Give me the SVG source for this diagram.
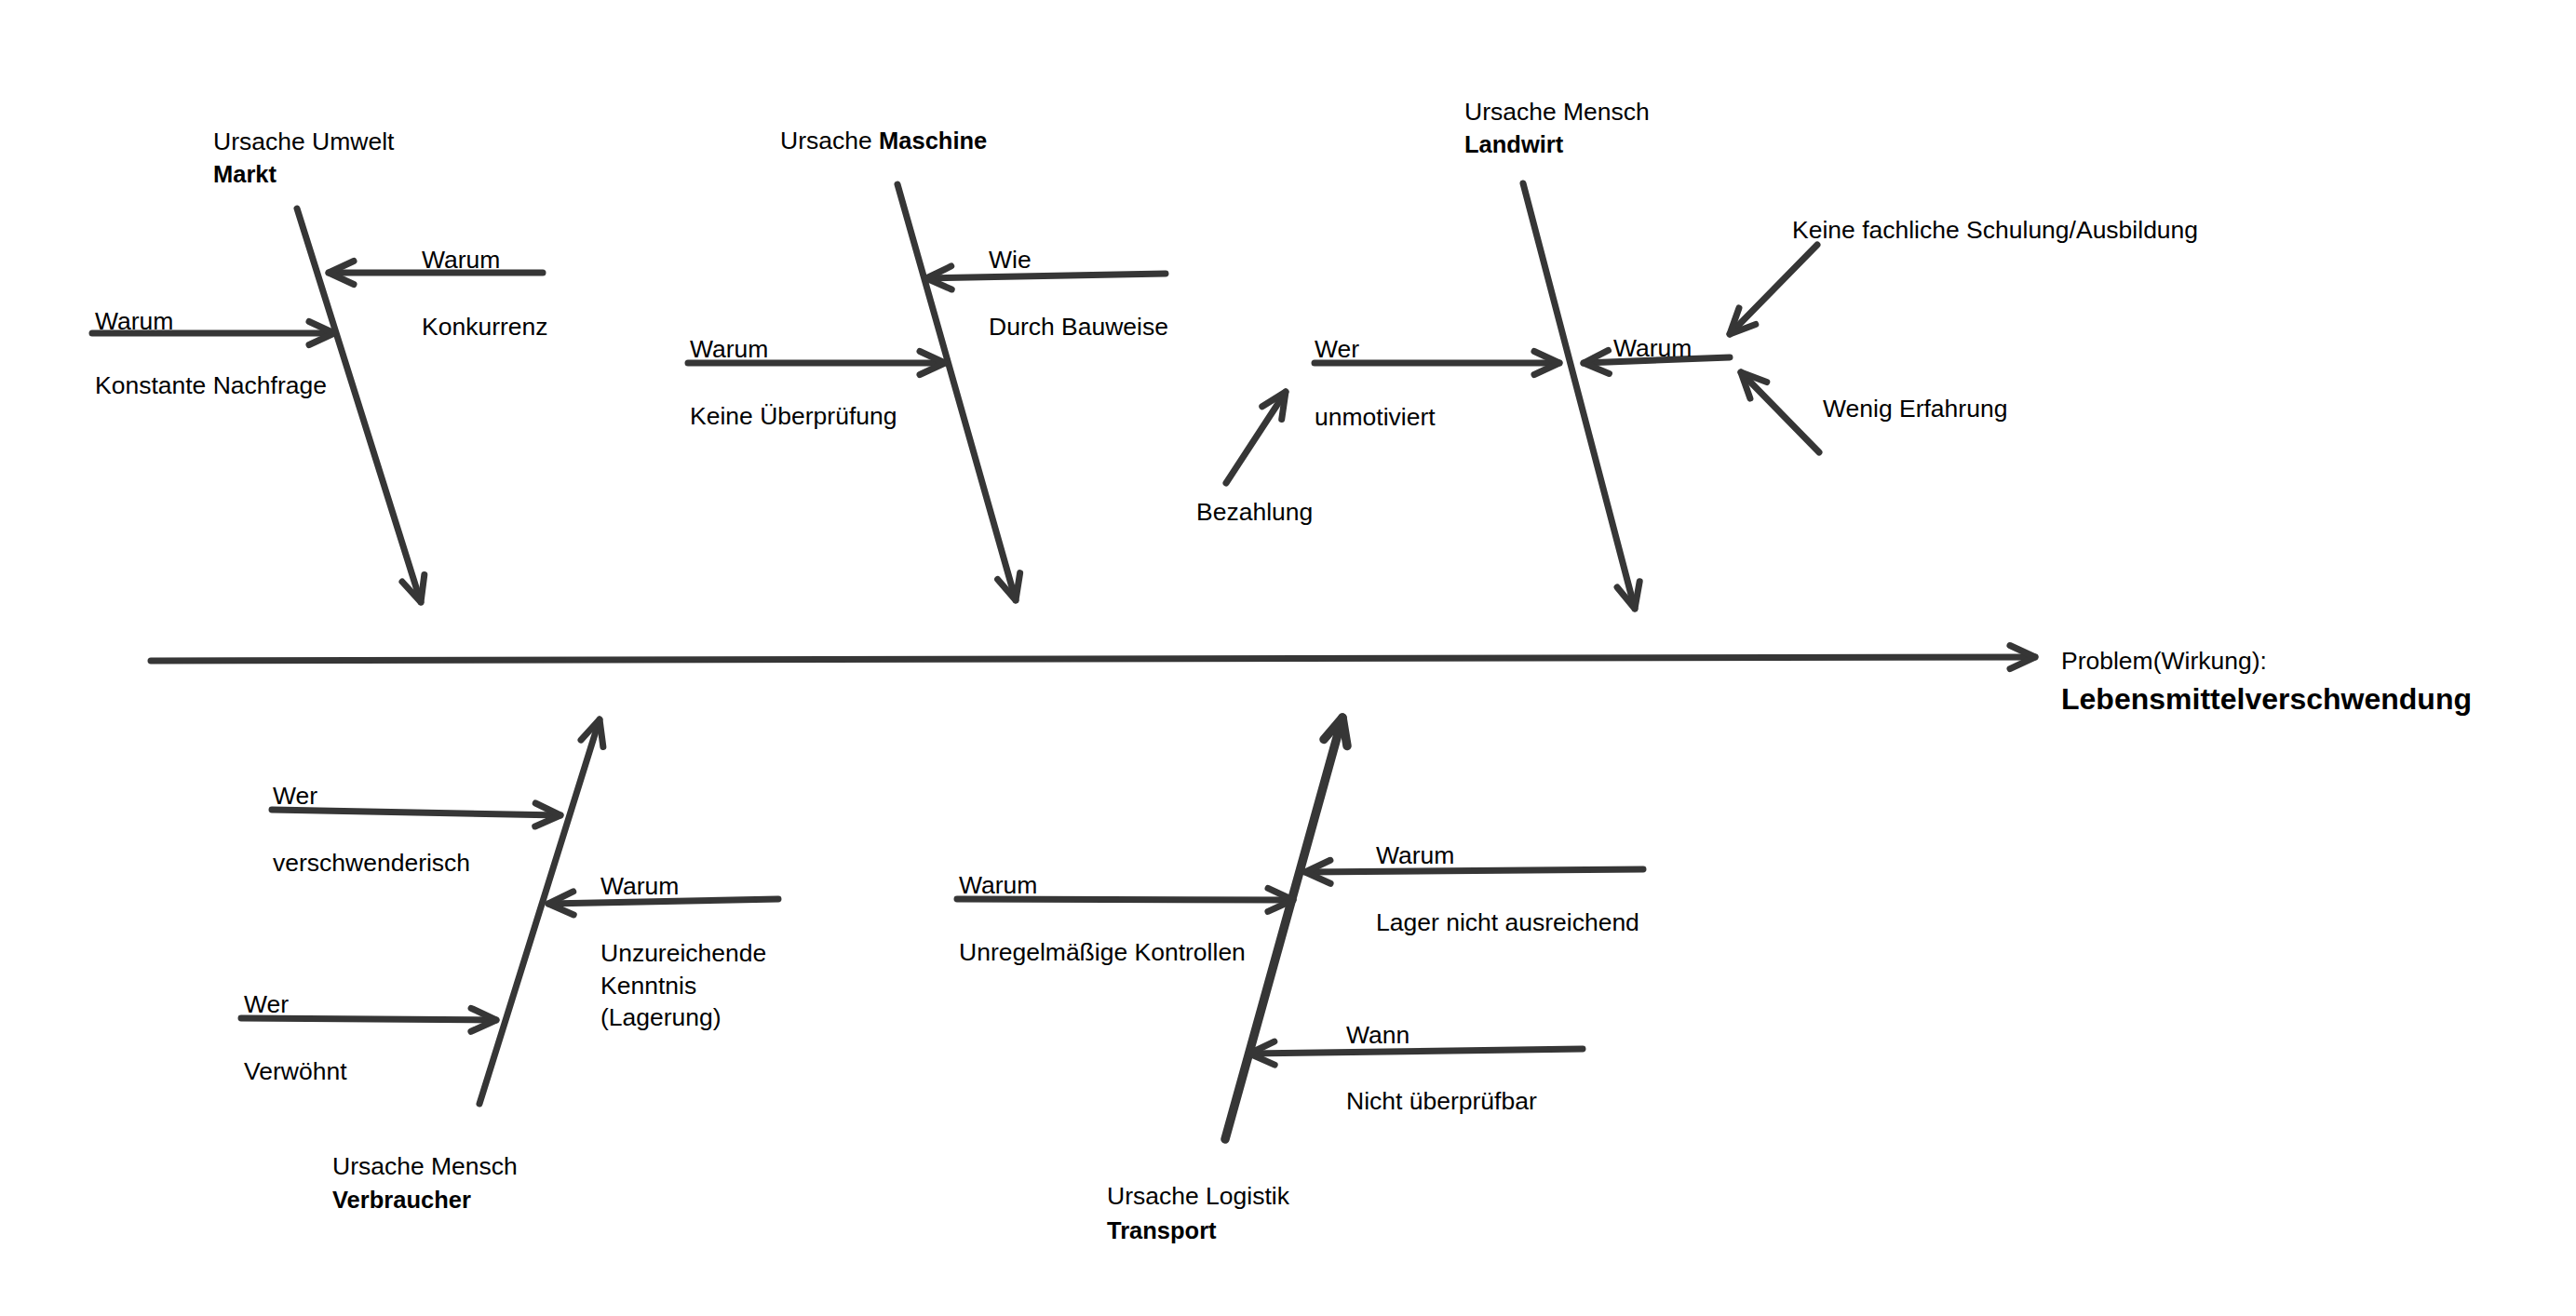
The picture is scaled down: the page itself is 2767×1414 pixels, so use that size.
<svg xmlns="http://www.w3.org/2000/svg" width="2767" height="1414" viewBox="0 0 2767 1414">
<style>
text{font-family:"Liberation Sans",Arial,sans-serif;font-size:26.5px;fill:#000}
.b{font-weight:bold;font-size:25.5px}
.big{font-weight:bold;font-size:32px}
.ln{stroke:#363636;stroke-width:7;stroke-linecap:round;fill:none;marker-end:url(#ah)}
.thick{stroke-width:9.5;marker-end:url(#ahb)}
</style>
<defs>
<marker id="ah" markerUnits="userSpaceOnUse" orient="auto" refX="0" refY="0" markerWidth="60" markerHeight="60" overflow="visible">
<path d="M-27,-12.5 L0,0 L-27,12.5" fill="none" stroke="#363636" stroke-width="7" stroke-linecap="round" stroke-linejoin="round"/>
</marker>
<marker id="ahb" markerUnits="userSpaceOnUse" orient="auto" refX="0" refY="0" markerWidth="60" markerHeight="60" overflow="visible">
<path d="M-28,-13 L0,0 L-28,13" fill="none" stroke="#363636" stroke-width="9.5" stroke-linecap="round" stroke-linejoin="round"/>
</marker>
</defs>
<rect width="2767" height="1414" fill="#fff"/>
<g id="connectors">
<line class="ln" x1="162" y1="710" x2="2186" y2="706"/>
<line class="ln" x1="319" y1="224" x2="452" y2="647"/>
<line class="ln" x1="583" y1="293" x2="353" y2="293"/>
<line class="ln" x1="99" y1="358" x2="359" y2="358"/>
<line class="ln" x1="964" y1="198" x2="1091" y2="645"/>
<line class="ln" x1="1252" y1="294" x2="995" y2="299"/>
<line class="ln" x1="739" y1="390" x2="1015" y2="390"/>
<line class="ln" x1="1317" y1="519" x2="1381" y2="421"/>
<line class="ln" x1="1636" y1="197" x2="1756" y2="654"/>
<line class="ln" x1="1412" y1="390" x2="1675" y2="390"/>
<line class="ln" x1="1858" y1="384" x2="1701" y2="390"/>
<line class="ln" x1="1952" y1="263" x2="1858" y2="359"/>
<line class="ln" x1="1954" y1="486" x2="1870" y2="400"/>
<line class="ln" x1="515" y1="1186" x2="644" y2="773"/>
<line class="ln" x1="292" y1="870" x2="602" y2="876"/>
<line class="ln" x1="836" y1="966" x2="589" y2="971"/>
<line class="ln" x1="259" y1="1094" x2="533" y2="1096"/>
<line class="ln thick" x1="1316" y1="1224" x2="1442" y2="771"/>
<line class="ln" x1="1028" y1="966" x2="1389" y2="967"/>
<line class="ln" x1="1765" y1="934" x2="1402" y2="937"/>
<line class="ln" x1="1700" y1="1127" x2="1342" y2="1132"/>
</g>
<g id="problem">
<text x="2214" y="719">Problem(Wirkung):</text>
<text class="big" x="2214" y="762">Lebensmittelverschwendung</text>
</g>
<g id="markt">
<text x="229" y="161">Ursache Umwelt</text>
<text class="b" x="229" y="196">Markt</text>
<text x="453" y="288">Warum</text>
<text x="453" y="360">Konkurrenz</text>
<text x="102" y="354">Warum</text>
<text x="102" y="423">Konstante Nachfrage</text>
</g>
<g id="maschine">
<text x="838" y="160">Ursache <tspan class="b">Maschine</tspan></text>
<text x="1062" y="288">Wie</text>
<text x="1062" y="360">Durch Bauweise</text>
<text x="741" y="384">Warum</text>
<text x="741" y="456">Keine Überprüfung</text>
<text x="1285" y="559">Bezahlung</text>
</g>
<g id="landwirt">
<text x="1573" y="129">Ursache Mensch</text>
<text class="b" x="1573" y="164">Landwirt</text>
<text x="1412" y="384">Wer</text>
<text x="1412" y="457">unmotiviert</text>
<text x="1733" y="383">Warum</text>
<text x="1925" y="256">Keine fachliche Schulung/Ausbildung</text>
<text x="1958" y="448">Wenig Erfahrung</text>
</g>
<g id="verbraucher">
<text x="293" y="864">Wer</text>
<text x="293" y="936">verschwenderisch</text>
<text x="645" y="961">Warum</text>
<text x="645" y="1033">Unzureichende</text>
<text x="645" y="1068">Kenntnis</text>
<text x="645" y="1102">(Lagerung)</text>
<text x="262" y="1088">Wer</text>
<text x="262" y="1160">Verwöhnt</text>
<text x="357" y="1262">Ursache Mensch</text>
<text class="b" x="357" y="1298">Verbraucher</text>
</g>
<g id="transport">
<text x="1030" y="960">Warum</text>
<text x="1030" y="1032">Unregelmäßige Kontrollen</text>
<text x="1478" y="928">Warum</text>
<text x="1478" y="1000">Lager nicht ausreichend</text>
<text x="1446" y="1121">Wann</text>
<text x="1446" y="1192">Nicht überprüfbar</text>
<text x="1189" y="1294">Ursache Logistik</text>
<text class="b" x="1189" y="1331">Transport</text>
</g>
</svg>
